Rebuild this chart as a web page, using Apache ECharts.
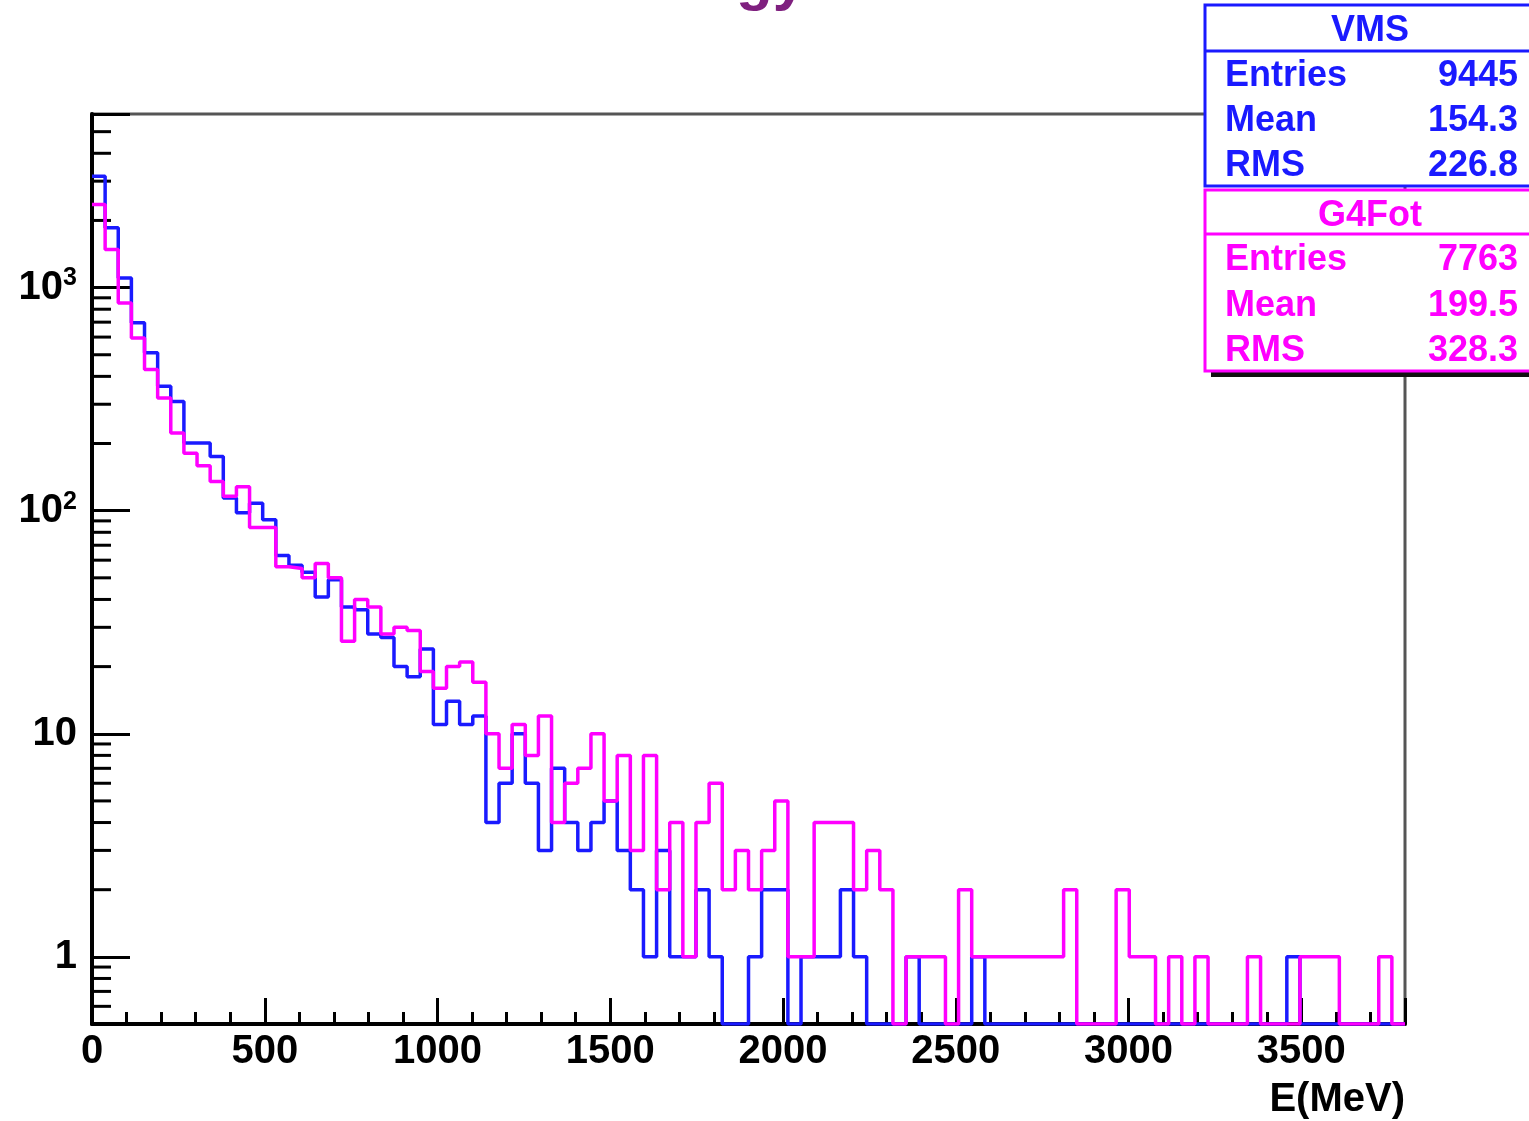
<!DOCTYPE html>
<html><head><meta charset="utf-8">
<script src="https://cdn.jsdelivr.net/npm/echarts@6/dist/echarts.min.js"></script>
<style>html,body{margin:0;padding:0;background:#fff}#chart{width:1529px;height:1121px}</style>
</head><body><div id="chart"></div>
<script>
// ---- binning / axis ranges ----
const X_MIN = 0, X_MAX = 3800, BIN_WIDTH = 38;
const Y_MIN = 0.5, Y_MAX = 6000;

// ---- histogram contents (counts per 38 MeV bin, 100 bins) ----
const VMS_COUNTS = [
  3157,1853,1105,695,510,361,309,201,201,175,
  114,98,108,91,63,57,53,41,49,37,
  36,28,27,20,18,24,11,14,11,12,
  4,6,10,6,3,7,4,3,4,5,
  3,2,1,3,1,1,2,1,0,0,
  1,2,2,0,1,1,1,2,1,0,
  0,0,1,0,0,0,0,1,0,0,
  0,0,0,0,0,0,0,0,0,0,
  0,0,0,0,0,0,0,0,0,0,
  0,1,0,0,0,0,0,0,0,0
];
const G4FOT_COUNTS = [
  2355,1481,854,595,429,320,223,181,159,135,
  116,128,84,84,56,55,50,58,50,26,
  40,37,28,30,29,19,16,20,21,17,
  10,7,11,8,12,4,6,7,10,5,
  8,3,8,2,4,1,4,6,2,3,
  2,3,5,1,1,4,4,4,2,3,
  2,0,1,1,1,0,2,1,1,1,
  1,1,1,1,2,0,0,0,2,1,
  1,0,1,0,1,0,0,0,1,0,
  0,0,1,1,1,0,0,0,1,0
];

// ---- ticks / labels ----
const X_TICK_STEP = 500;
const X_TICK_LABELS = ['0','500','1000','1500','2000','2500','3000','3500'];
const Y_TICK_VALUES = [1, 10, 100, 1000];
const Y_TICK_LABELS = ['1', '10', '10{sup|2}', '10{sup|3}'];
const Y_MINOR_TICKS = [0.6,0.7,0.8,0.9, 2,3,4,5,6,7,8,9, 20,30,40,50,60,70,80,90,
                       200,300,400,500,600,700,800,900, 2000,3000,4000,5000];
const X_AXIS_NAME = 'E(MeV)';
const TITLE = 'Energy';

// ---- stats boxes ----
const STAT_NAMES = ['Entries', 'Mean', 'RMS'];
const VMS_NAME = 'VMS', VMS_STATS = ['9445', '154.3', '226.8'];
const G4FOT_NAME = 'G4Fot', G4FOT_STATS = ['7763', '199.5', '328.3'];

const BLUE = '#1a1aff', MAGENTA = '#ff00ff';
const FONT = '"Liberation Sans", Arial, Helvetica, sans-serif';

function stepData(counts) {
  const pts = counts.map((c, i) => [X_MIN + i * BIN_WIDTH, Math.max(c, Y_MIN)]);
  pts.push([X_MIN + counts.length * BIN_WIDTH, Math.max(counts[counts.length - 1], Y_MIN)]);
  return pts;
}

function statBox(x, y, h, sepY, color, name, stats, rowYs, titleY, shadow) {
  const els = [];
  if (shadow) {
    els.push({ type: 'rect', shape: { x: x + 6, y: y + 6, width: 400, height: h }, style: { fill: '#111' }, z: 100 });
  }
  els.push({ type: 'rect', shape: { x: x, y: y, width: 400, height: h }, style: { fill: '#fff', stroke: color, lineWidth: 3 }, z: 101 });
  els.push({ type: 'line', shape: { x1: x, y1: sepY, x2: x + 400, y2: sepY }, style: { stroke: color, lineWidth: 3 }, z: 102 });
  els.push({ type: 'text', x: 1370, y: titleY, style: { text: name, fill: color, font: 'bold 36px ' + FONT, align: 'center', verticalAlign: 'middle' }, z: 103 });
  STAT_NAMES.forEach((n, i) => {
    els.push({ type: 'text', x: 1225, y: rowYs[i], style: { text: n, fill: color, font: 'bold 36px ' + FONT, align: 'left', verticalAlign: 'middle' }, z: 103 });
    els.push({ type: 'text', x: 1518, y: rowYs[i], style: { text: stats[i], fill: color, font: 'bold 36px ' + FONT, align: 'right', verticalAlign: 'middle' }, z: 103 });
  });
  return els;
}

const chart = echarts.init(document.getElementById('chart'), null, { renderer: 'canvas' });
chart.setOption({
  animation: false,
  backgroundColor: '#fff',
  grid: { left: 92, right: 124, top: 114, bottom: 97, show: true, borderColor: '#555', borderWidth: 3, backgroundColor: 'transparent' },
  xAxis: {
    type: 'value', min: X_MIN, max: X_MAX, interval: X_TICK_STEP,
    axisLine: { show: true, onZero: false, lineStyle: { color: '#000', width: 4 } },
    axisTick: { show: true, inside: true, length: 26, lineStyle: { color: '#000', width: 3 } },
    minorTick: { show: true, splitNumber: 5, length: 12, lineStyle: { color: '#000', width: 3 } },
    splitLine: { show: false },
    axisLabel: {
      margin: 8, color: '#000', fontFamily: FONT, fontWeight: 'bold', fontSize: 40,
      showMaxLabel: false,
      formatter: v => { const k = Math.round(v / X_TICK_STEP); return (Math.abs(v - k * X_TICK_STEP) < 1e-6 && k < X_TICK_LABELS.length) ? X_TICK_LABELS[k] : ''; }
    },
    name: X_AXIS_NAME, nameLocation: 'end', nameGap: 0,
    nameTextStyle: { color: '#000', fontFamily: FONT, fontWeight: 'bold', fontSize: 40, align: 'right', verticalAlign: 'top', padding: [56, 0, 0, 0] }
  },
  yAxis: {
    type: 'log', logBase: 10, min: Y_MIN, max: Y_MAX,
    axisLine: { show: true, lineStyle: { color: '#000', width: 4 } },
    axisTick: { show: true, inside: true, length: 38, lineStyle: { color: '#000', width: 3 } },
    splitLine: { show: false },
    axisLabel: {
      margin: 15, color: '#000', fontFamily: FONT, fontWeight: 'bold', fontSize: 40,
      formatter: v => {
        for (let i = 0; i < Y_TICK_VALUES.length; i++) {
          if (Math.abs(Math.log10(v) - Math.log10(Y_TICK_VALUES[i])) < 1e-6) return Y_TICK_LABELS[i];
        }
        return '';
      },
      rich: { sup: { fontFamily: FONT, fontWeight: 'bold', fontSize: 25, color: '#000', padding: [0, 0, 18, 0] } }
    }
  },
  series: [
    {
      type: 'custom', name: 'yminor', silent: true, z: 1, clip: false,
      data: Y_MINOR_TICKS.map(v => [X_MIN, v]), encode: { x: 0, y: 1 },
      renderItem: (params, api) => {
        const p = api.coord([api.value(0), api.value(1)]);
        return { type: 'line', shape: { x1: p[0], y1: p[1], x2: p[0] + 19, y2: p[1] }, style: { stroke: '#000', lineWidth: 3 } };
      }
    },
    { type: 'line', name: VMS_NAME, data: stepData(VMS_COUNTS), step: 'end', showSymbol: false, symbol: 'none', lineStyle: { color: BLUE, width: 3.5 }, itemStyle: { color: BLUE }, z: 3 },
    { type: 'line', name: G4FOT_NAME, data: stepData(G4FOT_COUNTS), step: 'end', showSymbol: false, symbol: 'none', lineStyle: { color: MAGENTA, width: 3.5 }, itemStyle: { color: MAGENTA }, z: 4 }
  ],
  graphic: [
    { type: 'text', x: 806, y: -18, style: { text: TITLE, fill: '#7f207f', font: 'bold 60px ' + FONT, align: 'right', verticalAlign: 'middle' }, z: 50 },
    ...statBox(1205, 5, 181, 51, BLUE, VMS_NAME, VMS_STATS, [76, 121, 166], 31, false),
    ...statBox(1205, 190, 181, 234, MAGENTA, G4FOT_NAME, G4FOT_STATS, [260, 306, 351], 216, true)
  ]
});
</script></body></html>
